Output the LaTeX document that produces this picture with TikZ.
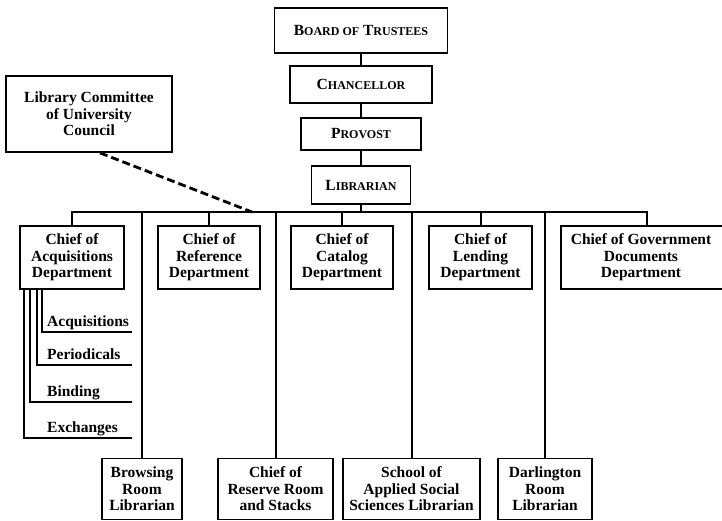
\documentclass[tikz,border=0pt]{standalone}
\usepackage{fontspec}
\setmainfont{Liberation Serif}
\newcommand\scsize{\fontsize{12}{14}\selectfont}
\begin{document}
\begin{tikzpicture}[x=1pt, y=-1pt,
  box/.style={draw, line width=1.8pt, align=center, inner sep=0pt,
    font=\fontsize{15.5}{16.5}\selectfont\bfseries},
  item/.style={inner sep=0pt, anchor=base west,
    font=\fontsize{15.5}{16.5}\selectfont\bfseries},
  tie/.style={line width=2pt}]
\useasboundingbox (0,0) rectangle (722,520);
\node[box, minimum width=173, minimum height=45] (board) at (361,30.5) {B{\scsize OARD OF} T{\scsize RUSTEES}};
\node[box, minimum width=142, minimum height=37] (chanc) at (361,84.5) {C{\scsize HANCELLOR}};
\node[box, minimum width=120, minimum height=32] (prov) at (361,134) {P{\scsize ROVOST}};
\node[box, minimum width=99, minimum height=38] (libr) at (361,185) {L{\scsize IBRARIAN}};
\node[box, minimum width=166, minimum height=76] (comm) at (89,114) {Library Committee\\of University\\Council};
\node[box, minimum width=104, minimum height=63] (acq) at (72,257.5) {Chief of\\Acquisitions\\Department};
\node[box, minimum width=102, minimum height=63] (ref) at (209,257.5) {Chief of\\Reference\\Department};
\node[box, minimum width=102, minimum height=63] (cat) at (342,257.5) {Chief of\\Catalog\\Department};
\node[box, minimum width=103, minimum height=63] (lend) at (480.5,257.5) {Chief of\\Lending\\Department};
\node[box, minimum width=166, minimum height=63] (govt) at (644,257.5) {\hspace*{-6pt}Chief of Government\\\hspace*{-6pt}Documents\\\hspace*{-6pt}Department};
\node[box, minimum width=80, minimum height=61] (brow) at (142,489) {Browsing\\Room\\Librarian};
\node[box, minimum width=115, minimum height=61] (resv) at (275.5,489) {Chief of\\Reserve Room\\and Stacks};
\node[box, minimum width=137, minimum height=61] (school) at (411.5,489) {School of\\Applied Social\\Sciences Librarian};
\node[box, minimum width=94, minimum height=61] (darl) at (545,489) {Darlington\\Room\\Librarian};
\coordinate (busL) at (72,212);
\coordinate (busR) at (647,212);
\coordinate (dash) at (252,212);
\draw[tie] (board) -- (chanc);
\draw[tie] (chanc) -- (prov);
\draw[tie] (prov) -- (libr);
\draw[tie] (libr) -- (libr |- busL);
\draw[tie] (acq) |- (busR) -- (busR |- govt.north);
\foreach \n in {ref,cat,lend,brow,resv,school,darl}
  \draw[tie] (\n) -- (\n |- busL);
\draw[tie, line width=2.8pt, dash pattern=on 8pt off 4pt] ([xshift=11pt]comm.south) -- (dash);
\foreach \n/\t/\y/\d in {acqs/Acquisitions/332/23, peri/Periodicals/365/18,
    bind/Binding/402/11, exch/Exchanges/438/5}{
  \node[item] (\n) at (47,\y-6) {\t};
  \coordinate (\n end) at (132,\y);
  \draw[tie] ([xshift=\d pt]acq.south west) |- (\n end);
}
\end{tikzpicture}
\end{document}
